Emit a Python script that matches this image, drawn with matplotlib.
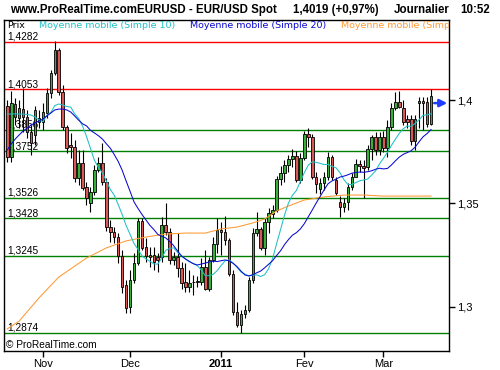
import numpy as np
import pandas as pd
import matplotlib
matplotlib.use("Agg")
import matplotlib.pyplot as plt
import matplotlib.transforms as mtransforms
from matplotlib.ticker import FixedLocator, FuncFormatter

# ---------------- data ----------------
dates = pd.bdate_range("2010-10-19", "2011-03-17")

opens = [1.3971, 1.3724, 1.3980, 1.3913, 1.3957, 1.3918, 1.3845, 1.3831, 1.3894, 1.3894,
         1.3937, 1.4034, 1.4131, 1.4242, 1.4039, 1.3869, 1.3782, 1.3773, 1.3622, 1.3695,
         1.3579, 1.3501, 1.3555, 1.3661, 1.3695, 1.3603, 1.3385, 1.3361, 1.3337, 1.3245,
         1.3105, 1.2998, 1.3129, 1.3211, 1.3414, 1.3288, 1.3250, 1.3250, 1.3240, 1.3240,
         1.3395, 1.3361, 1.3226, 1.3240, 1.3187, 1.3119, 1.3095, 1.3117, 1.3119, 1.3119,
         1.3192, 1.3085, 1.3226, 1.3303, 1.3371, 1.3361, 1.3322, 1.3158, 1.2974, 1.2911,
         1.2964, 1.2984, 1.3129, 1.3356, 1.3376, 1.3284, 1.3410, 1.3448, 1.3468, 1.3618,
         1.3647, 1.3685, 1.3714, 1.3729, 1.3613, 1.3719, 1.3835, 1.3821, 1.3627, 1.3569,
         1.3598, 1.3627, 1.3724, 1.3613, 1.3506, 1.3482, 1.3506, 1.3579, 1.3627, 1.3690,
         1.3681, 1.3676, 1.3763, 1.3821, 1.3758, 1.3821, 1.3768, 1.3869, 1.3961, 1.3990,
         1.3961, 1.3908, 1.3908, 1.3802, 1.3985, 1.3995, 1.3990, 1.3884]

highs = [1.4000, 1.4044, 1.4010, 1.4000, 1.4058, 1.3952, 1.3874, 1.3971, 1.3952, 1.3985,
         1.4058, 1.4145, 1.4286, 1.4252, 1.4073, 1.3879, 1.3840, 1.3806, 1.3758, 1.3758,
         1.3603, 1.3579, 1.3685, 1.3724, 1.3792, 1.3622, 1.3419, 1.3385, 1.3356, 1.3274,
         1.3129, 1.3177, 1.3259, 1.3429, 1.3429, 1.3330, 1.3288, 1.3288, 1.3259, 1.3434,
         1.3501, 1.3380, 1.3264, 1.3356, 1.3216, 1.3211, 1.3177, 1.3153, 1.3148, 1.3235,
         1.3274, 1.3240, 1.3337, 1.3429, 1.3410, 1.3439, 1.3332, 1.3177, 1.3022, 1.2984,
         1.3008, 1.3143, 1.3380, 1.3458, 1.3385, 1.3429, 1.3477, 1.3492, 1.3632, 1.3681,
         1.3710, 1.3734, 1.3763, 1.3753, 1.3743, 1.3850, 1.3864, 1.3835, 1.3652, 1.3622,
         1.3652, 1.3748, 1.3734, 1.3627, 1.3535, 1.3526, 1.3598, 1.3647, 1.3714, 1.3710,
         1.3710, 1.3782, 1.3831, 1.3845, 1.3845, 1.3850, 1.3903, 1.3985, 1.4039, 1.4044,
         1.4000, 1.3927, 1.3927, 1.3927, 1.4015, 1.4015, 1.4015, 1.4053]

lows = [1.3700, 1.3700, 1.3879, 1.3864, 1.3845, 1.3816, 1.3734, 1.3782, 1.3864, 1.3855,
        1.3913, 1.4010, 1.4121, 1.4024, 1.3855, 1.3743, 1.3719, 1.3603, 1.3589, 1.3564,
        1.3492, 1.3458, 1.3540, 1.3652, 1.3589, 1.3366, 1.3313, 1.3308, 1.3211, 1.3066,
        1.2969, 1.2969, 1.3114, 1.3201, 1.3274, 1.3216, 1.3192, 1.3177, 1.3168, 1.3216,
        1.3347, 1.3206, 1.3201, 1.3143, 1.3085, 1.3071, 1.3071, 1.3056, 1.3095, 1.3105,
        1.3080, 1.3076, 1.3216, 1.3259, 1.3250, 1.3298, 1.3148, 1.2960, 1.2901, 1.2872,
        1.2945, 1.2974, 1.3114, 1.3342, 1.3274, 1.3250, 1.3356, 1.3429, 1.3458, 1.3589,
        1.3603, 1.3652, 1.3676, 1.3603, 1.3598, 1.3710, 1.3773, 1.3618, 1.3550, 1.3545,
        1.3564, 1.3613, 1.3613, 1.3540, 1.3434, 1.3458, 1.3468, 1.3564, 1.3652, 1.3652,
        1.3526, 1.3661, 1.3710, 1.3734, 1.3734, 1.3748, 1.3724, 1.3855, 1.3952, 1.3961,
        1.3879, 1.3864, 1.3782, 1.3758, 1.3864, 1.3855, 1.3869, 1.3879]

closes = [1.3724, 1.3985, 1.3918, 1.3961, 1.3918, 1.3845, 1.3792, 1.3952, 1.3913, 1.3942,
          1.4034, 1.4131, 1.4242, 1.4039, 1.3869, 1.3768, 1.3773, 1.3622, 1.3695, 1.3574,
          1.3526, 1.3555, 1.3661, 1.3695, 1.3603, 1.3385, 1.3361, 1.3337, 1.3245, 1.3095,
          1.2993, 1.3129, 1.3211, 1.3414, 1.3284, 1.3245, 1.3240, 1.3216, 1.3226, 1.3395,
          1.3361, 1.3226, 1.3240, 1.3187, 1.3114, 1.3095, 1.3114, 1.3121, 1.3122, 1.3192,
          1.3085, 1.3226, 1.3303, 1.3371, 1.3361, 1.3322, 1.3158, 1.2974, 1.2911, 1.2964,
          1.2984, 1.3129, 1.3356, 1.3376, 1.3284, 1.3410, 1.3453, 1.3468, 1.3618, 1.3647,
          1.3685, 1.3714, 1.3729, 1.3613, 1.3719, 1.3835, 1.3821, 1.3627, 1.3593, 1.3598,
          1.3627, 1.3724, 1.3627, 1.3550, 1.3482, 1.3501, 1.3579, 1.3627, 1.3690, 1.3681,
          1.3671, 1.3763, 1.3821, 1.3758, 1.3821, 1.3768, 1.3869, 1.3961, 1.3990, 1.3966,
          1.3894, 1.3894, 1.3802, 1.3908, 1.3995, 1.3985, 1.3884, 1.4019]

# moving averages: values read for the first days (window starts before the chart)
ma10_head = [1.3932, 1.3932, 1.3933, 1.3932, 1.3932, 1.3930, 1.3927, 1.3918, 1.3903]
ma20_head = [1.3758, 1.3787, 1.3811, 1.3831, 1.3850, 1.3864, 1.3879, 1.3889, 1.3898,
             1.3908, 1.3923, 1.3937, 1.3952, 1.3956, 1.3956, 1.3952, 1.3942, 1.3923, 1.3903]

# long moving average (orange), read at some days
ma_long_idx = [0, 3, 8, 13, 20, 25, 30, 35, 40, 45, 50, 54, 58, 62, 65, 68, 71, 75,
               80, 85, 90, 95, 100, 107]
ma_long_val = [1.2892, 1.2930, 1.3042, 1.3143, 1.3235, 1.3284, 1.3318, 1.3337, 1.3351,
               1.3356, 1.3356, 1.3376, 1.3385, 1.3405, 1.3424, 1.3463, 1.3487, 1.3516,
               1.3531, 1.3540, 1.3540, 1.3535, 1.3535, 1.3535]

levels = [1.4282, 1.4053, 1.3856, 1.3752, 1.3526, 1.3428, 1.3245, 1.2874]
level_colors = ["#ff0000", "#ff0000", "#008000", "#008000", "#008000", "#008000",
                "#008000", "#008000"]

price_ticks = [1.30, 1.35, 1.40]
month_starts = ["2010-11-01", "2010-12-01", "2011-01-03", "2011-02-01", "2011-03-01"]
month_labels = ["Nov", "Dec", "2011", "Fev", "Mar"]
arrow_level = 1.3985

# ---------------- figure ----------------
FONT = "Liberation Sans"
fig = plt.figure(figsize=(5, 3.7), dpi=100)
fig.patch.set_facecolor("white")
ax = fig.add_axes([4 / 500, 19 / 370, 445 / 500, 331 / 370])

n = len(closes)
x = np.arange(n)
o = np.array(opens); h = np.array(highs); l = np.array(lows); c = np.array(closes)
up = c >= o

# horizontal levels + labels
blend = mtransforms.blended_transform_factory(ax.transAxes, ax.transData)
for lev, col in zip(levels, level_colors):
    ax.axhline(lev, color=col, lw=1.0, zorder=1)
    ax.text(0.007, lev, f"{lev:.4f}".replace(".", ","), transform=blend,
            ha="left", va="bottom", fontsize=7.3, family=FONT, zorder=2)

# candles
ax.vlines(x, l, h, color="black", lw=0.8, zorder=3)
ax.bar(x, np.abs(c - o), bottom=np.minimum(o, c), width=0.65,
       color=np.where(up, "#38b038", "#d85858"), edgecolor="black",
       linewidth=0.6, zorder=4)

# moving averages
cs = pd.Series(closes)
ma10 = cs.rolling(10).mean().to_numpy()
ma10[:len(ma10_head)] = ma10_head
ma20 = cs.rolling(20).mean().to_numpy()
ma20[:len(ma20_head)] = ma20_head
ax.plot(ma_long_idx, ma_long_val, color="#ff9933", lw=0.75, zorder=5)
ax.plot(x, ma10, color="#20c0c8", lw=0.75, zorder=5)
ax.plot(x, ma20, color="#0a0ad0", lw=0.75, zorder=5)

# arrow on the right
ax.annotate("", xy=(n + 3.1, arrow_level), xytext=(n - 0.2, arrow_level),
            arrowprops=dict(arrowstyle="-|>", color="#1f3cff", lw=1.8,
                            mutation_scale=11, shrinkA=0, shrinkB=0),
            annotation_clip=False, zorder=6)

ax.set_xlim(-0.83, 111.54)
ax.set_ylim(1.27852, 1.43872)

# axes / ticks
for sp in ax.spines.values():
    sp.set_color("black")
    sp.set_linewidth(1.0)
ax.yaxis.tick_right()
ax.yaxis.set_major_locator(FixedLocator(price_ticks))
ax.yaxis.set_major_formatter(FuncFormatter(lambda v, p: f"{v:g}".replace(".", ",")))
ax.tick_params(axis="y", direction="out", length=4, width=1, pad=2, labelsize=8)

tick_pos = [int(np.searchsorted(dates, pd.Timestamp(d))) for d in month_starts]
ax.set_xticks(tick_pos)
ax.set_xticklabels(month_labels)
ax.tick_params(axis="x", direction="out", length=4, width=1, pad=2, labelsize=8)
for lab in ax.get_xticklabels() + ax.get_yticklabels():
    lab.set_family(FONT)
ax.get_xticklabels()[2].set_fontweight("bold")

# header
ty = 1 - 10 / 370
fig.text(10 / 500, ty, "www.ProRealTime.comEURUSD - EUR/USD Spot", ha="left", va="center",
         fontsize=8.3, fontweight="bold", family=FONT)
fig.text(293 / 500, ty, "1,4019 (+0,97%)", ha="left", va="center",
         fontsize=8.3, fontweight="bold", family=FONT)
fig.text(394 / 500, ty, "Journalier", ha="left", va="center",
         fontsize=8.3, fontweight="bold", family=FONT)
fig.text(460 / 500, ty, "10:52", ha="left", va="center",
         fontsize=8.3, fontweight="bold", family=FONT)

# legend row inside the frame
ly = (351 - 25) / 331
leg = [("Prix", "black", 7), ("Moyenne mobile (Simple 10)", "#20c0c8", 39),
       ("Moyenne mobile (Simple 20)", "#0a0ad0", 190),
       ("Moyenne mobile (Simple 100)", "#ff9933", 341)]
for txt, col, px in leg:
    ax.text((px - 4) / 445, ly, txt, transform=ax.transAxes, ha="left", va="center",
            fontsize=6.8, color=col, family="DejaVu Sans", clip_on=True, zorder=7)

ax.text(2 / 445, (351 - 345) / 331, "\u00a9 ProRealTime.com", transform=ax.transAxes,
        ha="left", va="center", fontsize=7.3, family=FONT, zorder=7)

fig.savefig("out.png", dpi=100)
